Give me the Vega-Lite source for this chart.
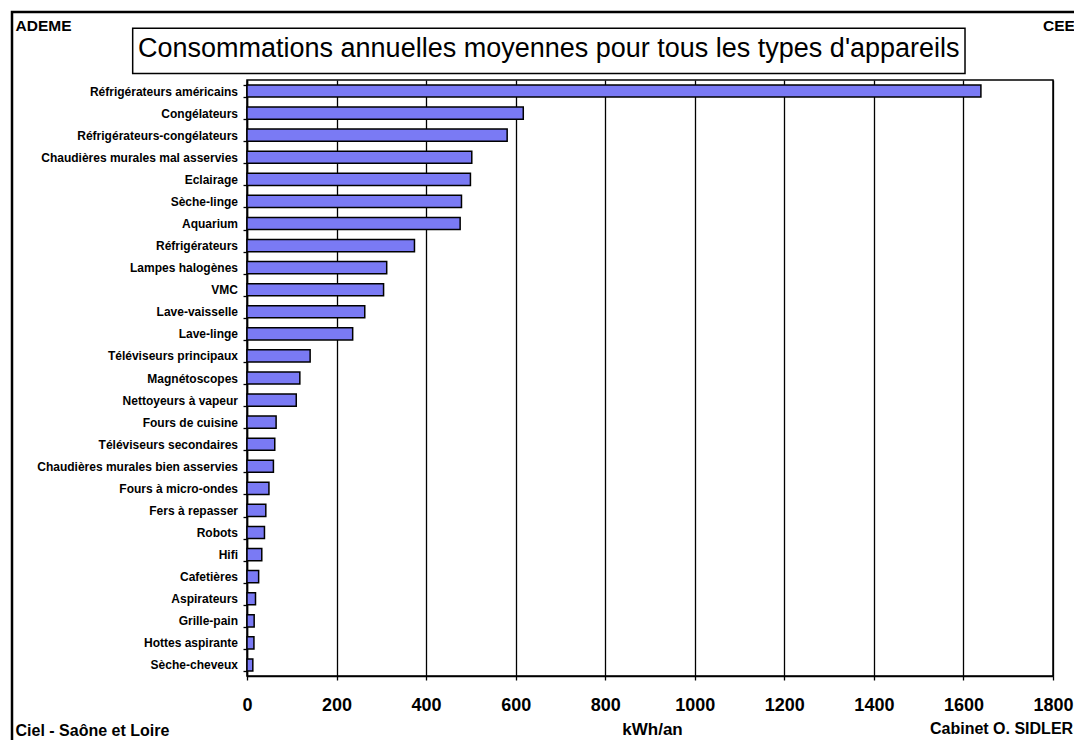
{
  "$schema": "https://vega.github.io/schema/vega-lite/v6.json",
  "width": 806,
  "height": 596,
  "autosize": {"type": "none"},
  "padding": {"left": 247, "top": 80, "right": 21, "bottom": 64},
  "background": "white",
  "config": {
    "font": "Liberation Sans",
    "view": {"stroke": "black", "strokeWidth": 1.5}
  },
  "resolve": {"scale": {"y": "independent"}, "axis": {"y": "independent"}},
  "layer": [
    {
      "data": {"values": [
        {"appareil": "Réfrigérateurs américains", "kwh": 1639},
        {"appareil": "Congélateurs", "kwh": 617},
        {"appareil": "Réfrigérateurs-congélateurs", "kwh": 581},
        {"appareil": "Chaudières murales mal asservies", "kwh": 502},
        {"appareil": "Eclairage", "kwh": 499},
        {"appareil": "Sèche-linge", "kwh": 479},
        {"appareil": "Aquarium", "kwh": 476},
        {"appareil": "Réfrigérateurs", "kwh": 374},
        {"appareil": "Lampes halogènes", "kwh": 312},
        {"appareil": "VMC", "kwh": 305},
        {"appareil": "Lave-vaisselle", "kwh": 263},
        {"appareil": "Lave-linge", "kwh": 236},
        {"appareil": "Téléviseurs principaux", "kwh": 141},
        {"appareil": "Magnétoscopes", "kwh": 118},
        {"appareil": "Nettoyeurs à vapeur", "kwh": 110},
        {"appareil": "Fours de cuisine", "kwh": 65},
        {"appareil": "Téléviseurs secondaires", "kwh": 62},
        {"appareil": "Chaudières murales bien asservies", "kwh": 59},
        {"appareil": "Fours à micro-ondes", "kwh": 49},
        {"appareil": "Fers à repasser", "kwh": 42},
        {"appareil": "Robots", "kwh": 39},
        {"appareil": "Hifi", "kwh": 33},
        {"appareil": "Cafetières", "kwh": 26},
        {"appareil": "Aspirateurs", "kwh": 19},
        {"appareil": "Grille-pain", "kwh": 16},
        {"appareil": "Hottes aspirante", "kwh": 15.5},
        {"appareil": "Sèche-cheveux", "kwh": 13}
      ]},
      "mark": {"type": "bar", "fill": "#7a7af4", "stroke": "black", "strokeWidth": 1.5},
      "encoding": {
        "y": {
          "field": "appareil", "type": "nominal", "sort": null,
          "scale": {"paddingInner": 0.45, "paddingOuter": 0.225},
          "axis": {
            "title": null,
            "tickBand": "extent",
            "tickSize": 4,
            "tickColor": "black",
            "tickWidth": 1.3,
            "domainColor": "black",
            "domainWidth": 1.5,
            "labelFont": "Liberation Sans",
            "labelFontSize": 12,
            "labelFontWeight": "bold",
            "labelColor": "black",
            "labelPadding": 5.5,
            "labelLimit": 300
          }
        },
        "x": {
          "field": "kwh", "type": "quantitative",
          "scale": {"domain": [0, 1800], "nice": false, "zero": true},
          "axis": {
            "values": [0, 200, 400, 600, 800, 1000, 1200, 1400, 1600, 1800],
            "format": "d",
            "title": "kWh/an",
            "titleFont": "Liberation Sans",
            "titleFontSize": 17,
            "titleFontWeight": "bold",
            "titleColor": "black",
            "titleBaseline": "alphabetic",
            "titleY": 58,
            "titleX": 405,
            "grid": true,
            "gridColor": "black",
            "gridWidth": 1.3,
            "gridOpacity": 1,
            "tickSize": 4,
            "tickColor": "black",
            "tickWidth": 1.3,
            "domainColor": "black",
            "domainWidth": 1.5,
            "labelFont": "Liberation Sans",
            "labelFontSize": 18,
            "labelFontWeight": "bold",
            "labelColor": "black",
            "labelPadding": 16,
            "labelFlush": false
          }
        }
      }
    },
    {
      "data": {"values": [{"cadre": "page"}]},
      "mark": {"type": "rect", "filled": false, "stroke": "black", "strokeWidth": 2.5, "clip": false},
      "encoding": {
        "x": {"datum": -524.8, "type": "quantitative"},
        "x2": {"datum": 1880},
        "y": {"datum": 111.4, "type": "quantitative", "scale": {"domain": [0, 100], "nice": false, "zero": false}, "axis": null},
        "y2": {"datum": -12}
      }
    },
    {
      "data": {"values": [{"cadre": "titre"}]},
      "mark": {"type": "rect", "filled": false, "stroke": "black", "strokeWidth": 1.5, "clip": false},
      "encoding": {
        "x": {"datum": -255.3, "type": "quantitative"},
        "x2": {"datum": 1603.5},
        "y": {"datum": 108.7, "type": "quantitative", "scale": {"domain": [0, 100], "nice": false, "zero": false}, "axis": null},
        "y2": {"datum": 101.1}
      }
    },
    {
      "data": {"values": [{"note": "Consommations annuelles moyennes pour tous les types d'appareils"}]},
      "mark": {"type": "text", "align": "center", "baseline": "alphabetic", "font": "Liberation Sans", "fontSize": 27, "fontWeight": "normal", "color": "black", "clip": false},
      "encoding": {
        "text": {"field": "note"},
        "x": {"datum": 674, "type": "quantitative"},
        "y": {"datum": 103.8, "type": "quantitative", "scale": {"domain": [0, 100], "nice": false, "zero": false}, "axis": null}
      }
    },
    {
      "data": {"values": [{"note": "ADEME"}]},
      "mark": {"type": "text", "align": "left", "baseline": "alphabetic", "font": "Liberation Sans", "fontSize": 15.5, "fontWeight": "bold", "color": "black", "clip": false},
      "encoding": {
        "text": {"field": "note"},
        "x": {"datum": -517, "type": "quantitative"},
        "y": {"datum": 108.27, "type": "quantitative", "scale": {"domain": [0, 100], "nice": false, "zero": false}, "axis": null}
      }
    },
    {
      "data": {"values": [{"note": "CEE"}]},
      "mark": {"type": "text", "align": "left", "baseline": "alphabetic", "font": "Liberation Sans", "fontSize": 15.5, "fontWeight": "bold", "color": "black", "clip": false},
      "encoding": {
        "text": {"field": "note"},
        "x": {"datum": 1777.6, "type": "quantitative"},
        "y": {"datum": 108.2, "type": "quantitative", "scale": {"domain": [0, 100], "nice": false, "zero": false}, "axis": null}
      }
    },
    {
      "data": {"values": [{"note": "Ciel - Saône et Loire"}]},
      "mark": {"type": "text", "align": "left", "baseline": "alphabetic", "font": "Liberation Sans", "fontSize": 16, "fontWeight": "bold", "color": "black", "clip": false},
      "encoding": {
        "text": {"field": "note"},
        "x": {"datum": -517, "type": "quantitative"},
        "y": {"datum": -10.07, "type": "quantitative", "scale": {"domain": [0, 100], "nice": false, "zero": false}, "axis": null}
      }
    },
    {
      "data": {"values": [{"note": "Cabinet O. SIDLER"}]},
      "mark": {"type": "text", "align": "left", "baseline": "alphabetic", "font": "Liberation Sans", "fontSize": 16, "fontWeight": "bold", "color": "black", "clip": false},
      "encoding": {
        "text": {"field": "note"},
        "x": {"datum": 1525.3, "type": "quantitative"},
        "y": {"datum": -9.73, "type": "quantitative", "scale": {"domain": [0, 100], "nice": false, "zero": false}, "axis": null}
      }
    }
  ]
}
